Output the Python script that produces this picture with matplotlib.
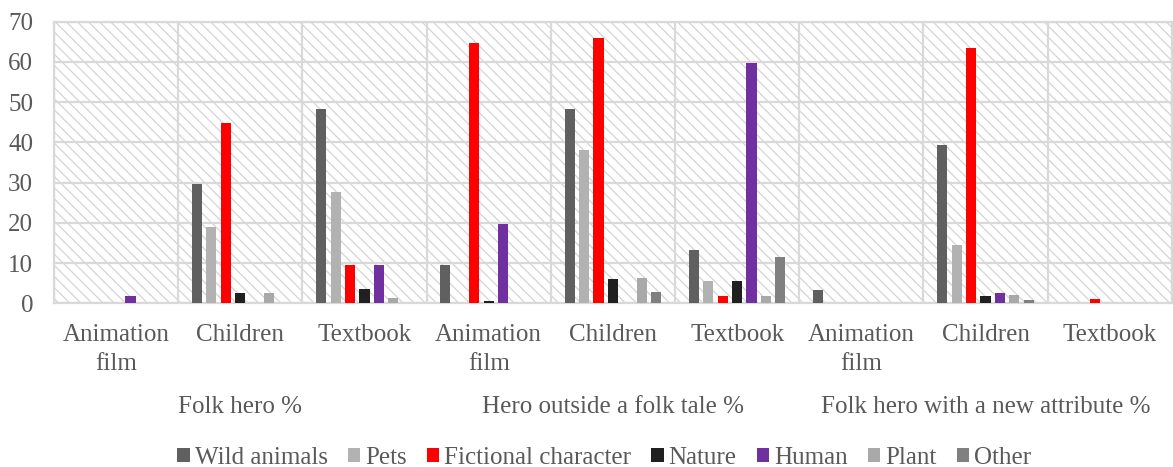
import matplotlib
matplotlib.use("Agg")
import numpy as np
from matplotlib import pyplot as plt

plt.rcParams["font.family"] = ["Liberation Serif", "DejaVu Serif"]
plt.rcParams["hatch.color"] = "#d4d4d4"
plt.rcParams["hatch.linewidth"] = 0.9

# categories (x axis)
categories = ["Animation\nfilm", "Children", "Textbook",
              "Animation\nfilm", "Children", "Textbook",
              "Animation\nfilm", "Children", "Textbook"]
groups = ["Folk hero %", "Hero outside a folk tale %", "Folk hero with a new attribute %"]

series_names = ["Wild animals", "Pets", "Fictional character", "Nature", "Human", "Plant", "Other"]
colors = ["#606060", "#b2b2b2", "#ff0000", "#202020", "#7030a0", "#a9a9a9", "#808080"]

wild_animals = [0, 29.7, 48.3, 9.5, 48.4, 13.3, 3.3, 39.3, 0]
pets = [0, 18.9, 27.7, 0, 38.2, 5.6, 0, 14.5, 0]
fictional = [0, 44.8, 9.5, 64.8, 65.9, 1.9, 0, 63.4, 1.0]
nature = [0, 2.6, 3.6, 0.7, 6.0, 5.6, 0, 1.9, 0]
human = [1.9, 0, 9.5, 19.7, 0, 59.7, 0, 2.6, 0]
plant = [0, 2.6, 1.2, 0, 6.4, 1.9, 0, 2.1, 0]
other = [0, 0, 0, 0, 2.9, 11.5, 0, 0.8, 0]

all_series = [wild_animals, pets, fictional, nature, human, plant, other]

text_col = "#595959"
grid_col = "#d9d9d9"

fig = plt.figure(figsize=(11.73, 4.67), dpi=100)
ax = fig.add_axes([0.046, 0.3505, 0.953, 0.603])

x = np.arange(len(categories))
step = 0.116
width = 0.081
for i, vals in enumerate(all_series):
    ax.bar(x + (i - 3) * step, vals, width, color=colors[i], label=series_names[i], zorder=3)

ax.set_xlim(-0.5, len(categories) - 0.5)
ax.set_ylim(0, 70)
ax.set_yticks(range(0, 71, 10))

# hatched background
ax.patch.set_facecolor("white")
ax.patch.set_hatch("\\\\\\")
ax.patch.set_edgecolor("#d4d4d4")

ax.set_xticks(x)
ax.set_xticklabels(categories, fontsize=18, color=text_col, linespacing=1.4)
ax.set_xticks(np.arange(-0.5, len(categories)), minor=True)
ax.tick_params(axis="x", which="both", length=0, pad=15)
ax.tick_params(axis="y", length=0, pad=15, labelsize=18, labelcolor=text_col)

ax.grid(axis="y", color=grid_col, linewidth=1.6, zorder=1)
ax.grid(axis="x", which="minor", color=grid_col, linewidth=1.6, zorder=1)
ax.grid(axis="x", which="major", visible=False)
for s in ax.spines.values():
    s.set_color(grid_col)
    s.set_linewidth(1.6)

# group labels under the middle category of each group
for g, name in enumerate(groups):
    xc = g * 3 + 1
    ax.annotate(name, xy=(xc, 0), xycoords=("data", "axes fraction"),
                xytext=(0, -75), textcoords="offset points", ha="center", va="center",
                fontsize=18, color=text_col, annotation_clip=False)

leg = fig.legend(loc="center", bbox_to_anchor=(0.515, 0.02), ncol=7, frameon=False,
                 fontsize=18, handlelength=0.5, handleheight=0.5, handletextpad=0.2,
                 columnspacing=0.8, labelcolor=text_col)

fig.savefig("out.png", dpi=100)
